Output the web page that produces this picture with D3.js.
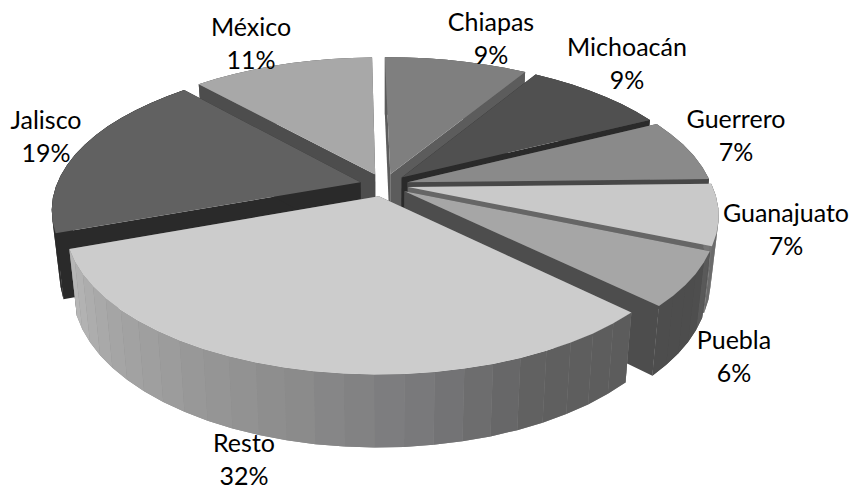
<!DOCTYPE html>
<html><head><meta charset="utf-8">
<script src="https://cdnjs.cloudflare.com/ajax/libs/d3/7.8.5/d3.min.js"></script>
<style>html,body{margin:0;padding:0;background:#fff}svg{display:block}text{font-family:Lato,"Open Sans",sans-serif;font-size:25px;fill:#000;text-anchor:middle}</style>
</head><body><svg id="c" width="853" height="486"></svg>
<script>
const categories = ["Chiapas","Michoacán","Guerrero","Guanajuato","Puebla","Resto","Jalisco","México"];
const values = [9.0,8.9,7.0,6.7,5.95,32.2,18.85,11.4];

// styles and layout, parallel to categories
const topFill  = ["#7f7f7f","#505050","#8a8a8a","#c9c9c9","#a6a6a6","#cccccc","#616161","#a8a8a8"];
const endFill  = ["#5c5c5c","#2a2a2a","#474747","#666666","#4d4d4d","#555555","#2a2a2a","#4d4d4d"];
const rimFill  = [["#666","#666"],["#444","#444"],["#666","#666"],["#777","#6a6a6a"],["#646464","#4e4e4e","#4d4d4d","#4d4d4d","#4d4d4d","#4d4d4d"],
                  ["#5c5c5c","#5f5f5f","#78787a","#8b8b8b","#999999","#a6a6a6","#b8b8b8"],["#2a2a2a","#2a2a2a"],["#777","#777"]];
const labelX = [491,627,736,786,734,244,46,251];
const labelY = [31,56,128,222,349,452,129,36];
const drawOrder = [7,0,1,2,3,6,4,5];

const svg = d3.select("#c");
const cx=384, cy=185, R=304, Rs=141.6, P=0.18, EXPL=0.08, rot=-1*Math.PI/180;

function proj(X,Y){ const k=1/(1-P*Y); return [cx+R*X*k, cy+Rs*Y*k]; }
function drop(p){ const t=66+(p[1]-233)*0.05; return [cx+(p[0]-cx)*0.976, p[1]+t]; }

const arcs = d3.pie().sort(null).value(d=>d).startAngle(rot).endAngle(rot+2*Math.PI)(values);
const line = d3.line();

drawOrder.forEach(i=>{
  const a=arcs[i], mid=(a.startAngle+a.endAngle)/2;
  const ox=EXPL*Math.sin(mid), oy=-EXPL*Math.cos(mid);
  const pt=t=>proj(ox+Math.sin(t), oy-Math.cos(t));
  const apex=proj(ox,oy);
  const n=Math.max(2,Math.round((a.endAngle-a.startAngle)/(4.6*Math.PI/180)));
  const angs=d3.range(n+1).map(j=>a.startAngle+(a.endAngle-a.startAngle)*j/n);
  const rim=angs.map(pt);
  const g=svg.append("g").attr("class","slice");
  const shade=d3.scaleLinear().domain(d3.range(rimFill[i].length).map(q=>q/(rimFill[i].length-1))).range(rimFill[i]);
  const walls=()=>[rim[0],rim[n]].forEach(r=>{
    g.append("path").attr("d",line([apex,r,drop(r),drop(apex)])+"Z").attr("fill",endFill[i]);
  });
  const strips=()=>{
    // an underlay closes the hairline seams between neighbouring strips
    const body=[...rim,...rim.map(drop).reverse()];
    g.append("path").attr("d",line(body)+"Z").attr("fill",shade(.5));
    d3.range(n).forEach(j=>{
      const q=line([rim[j],rim[j+1],drop(rim[j+1]),drop(rim[j])])+"Z";
      g.append("path").attr("d",q).attr("fill",shade((j+.5)/n));
    });
  };
  // faces that turn away from the viewer go first
  if(Math.cos(mid)>0){ strips(); walls(); } else { walls(); strips(); }
  g.append("path").attr("d",line([apex,...rim])+"Z").attr("fill",topFill[i]);
});

categories.forEach((c,i)=>{
  const t=svg.append("text").attr("x",labelX[i]).attr("y",labelY[i]);
  t.append("tspan").attr("x",labelX[i]).text(c);
  t.append("tspan").attr("x",labelX[i]).attr("dy",33).text(Math.round(values[i])+"%");
});
</script></body></html>
